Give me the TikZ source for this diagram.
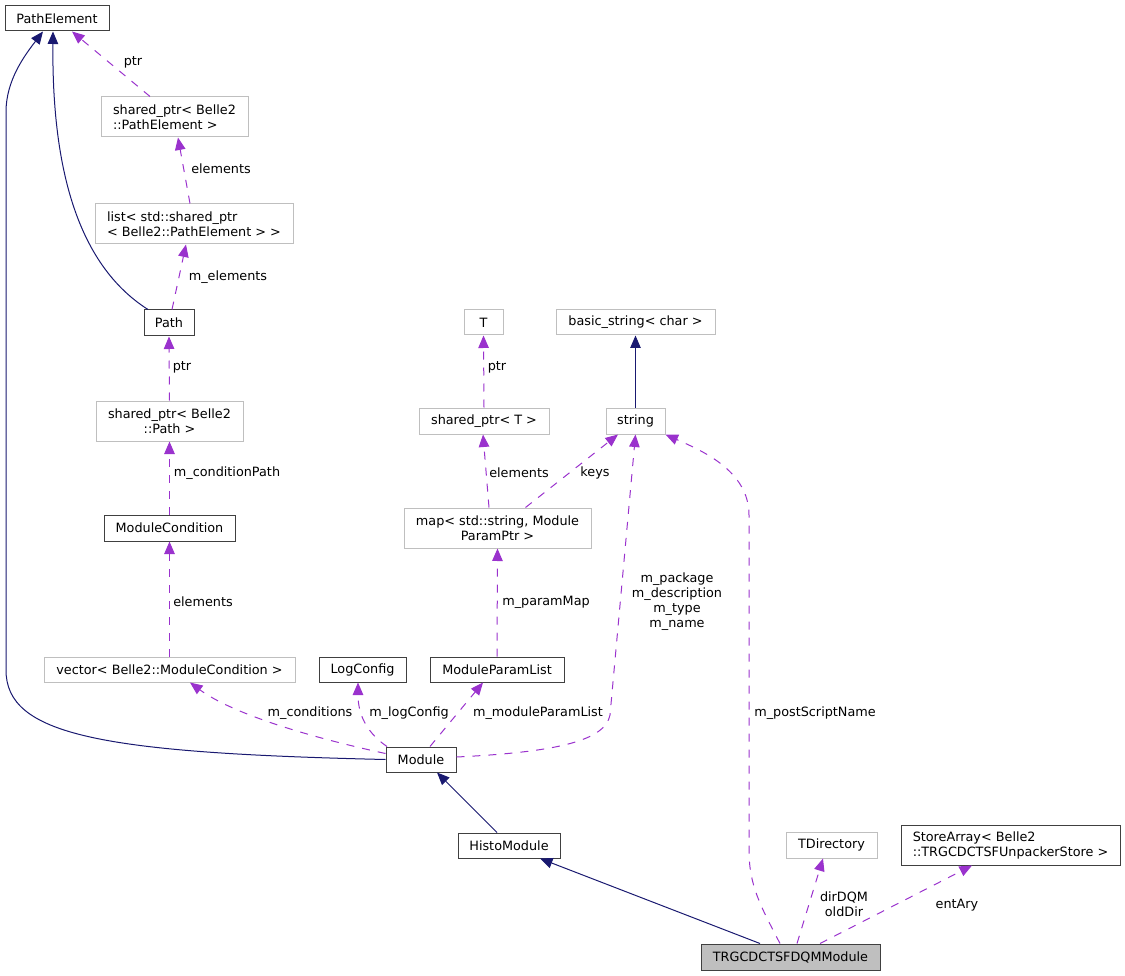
\documentclass[tikz,border=0pt]{standalone}
\usepackage{fontspec}
\setmainfont{DejaVu Sans}
\usetikzlibrary{arrows.meta}
\definecolor{navy}{HTML}{191970}
\definecolor{orchid}{HTML}{9A32CD}
\definecolor{gborder}{HTML}{BFBFBF}
\definecolor{bborder}{HTML}{404040}
\definecolor{selfill}{HTML}{BFBFBF}
\begin{document}
\begin{tikzpicture}[x=1pt,y=-1pt,
  every node/.style={font=\fontsize{12.8}{15}\selectfont, inner sep=0pt},
  cls/.style={draw=bborder, line width=1pt, fill=white},
  ext/.style={draw=gborder, line width=1pt, fill=white},
  inh/.style={draw=navy, line width=1pt, -{Triangle[length=12.5pt,width=10.5pt]}},
  dep/.style={draw=orchid, line width=1pt, dash pattern=on 8pt off 8pt, -{Triangle[length=12.5pt,width=10.5pt]}},
  lbl/.style={align=center}
]
\useasboundingbox (0,0) rectangle (1125,976);

% nodes
\node[cls, minimum width=104pt, minimum height=25pt] (pe) at (57,18.5) {PathElement};
\node[ext, minimum width=147pt, minimum height=40pt, align=left] (spe) at (174.5,117) {shared\_ptr< Belle2\\::PathElement >};
\node[ext, minimum width=198pt, minimum height=40pt, align=left] (lst) at (194,224) {list< std::shared\_ptr\\< Belle2::PathElement > >};
\node[cls, minimum width=50pt, minimum height=26pt] (path) at (169,323) {Path};
\node[ext, minimum width=147pt, minimum height=40pt, align=center] (spp) at (169.5,421) {shared\_ptr< Belle2\\::Path >};
\node[cls, minimum width=131pt, minimum height=26pt] (mc) at (169.5,528) {ModuleCondition};
\node[ext, minimum width=251pt, minimum height=25pt] (vec) at (169.5,669.5) {vector< Belle2::ModuleCondition >};
\node[cls, minimum width=87pt, minimum height=25pt] (lc) at (362.5,669.5) {LogConfig};
\node[cls, minimum width=134pt, minimum height=25pt] (mpl) at (497,669.5) {ModuleParamList};
\node[cls, minimum width=70pt, minimum height=25pt] (mod) at (421,759.5) {Module};
\node[cls, minimum width=102pt, minimum height=25pt] (histo) at (509,845.5) {HistoModule};
\node[draw=bborder, line width=1pt, fill=selfill, minimum width=179pt, minimum height=26pt] (trg) at (790.5,957) {TRGCDCTSFDQMModule};
\node[ext, minimum width=91pt, minimum height=26pt] (tdir) at (831.5,845) {TDirectory};
\node[cls, minimum width=219pt, minimum height=40pt, align=left] (sa) at (1010.5,845) {StoreArray< Belle2\\::TRGCDCTSFUnpackerStore >};
\node[ext, minimum width=39pt, minimum height=25pt] (tnode) at (483.5,322.5) {T};
\node[ext, minimum width=159pt, minimum height=25pt] (bs) at (635.5,322.5) {basic\_string< char >};
\node[ext, minimum width=130pt, minimum height=26pt] (spt) at (484,421) {shared\_ptr< T >};
\node[ext, minimum width=59pt, minimum height=26pt] (str) at (635.5,421) {string};
\node[ext, minimum width=187pt, minimum height=40pt, align=center] (map) at (497.5,528) {map< std::string, Module\\ParamPtr >};

% inheritance edges
\draw[inh] (mod.west) .. controls (100,753) and (6,735) .. (6,670) -- (6,112) .. controls (6,80) and (25,55) .. ([xshift=-14pt]pe.south);
\draw[inh] ([xshift=-21pt]path.north) .. controls (70,260) and (52,150) .. ([xshift=-4pt]pe.south);
\draw[inh] ([xshift=-12pt]histo.north) -- ([xshift=16pt]mod.south);
\draw[inh] ([xshift=-30.5pt]trg.north) -- ([xshift=31pt]histo.south);
\draw[inh] (str.north) -- (bs.south);

% usage edges
\draw[dep] ([xshift=-24.5pt]spe.north) -- ([xshift=15pt]pe.south);
\draw[dep] ([xshift=-4pt]lst.north) -- ([xshift=3.5pt]spe.south);
\draw[dep] ([xshift=3pt]path.north) -- ([xshift=-8pt]lst.south);
\draw[dep] (spp.north) -- (path.south);
\draw[dep] (mc.north) -- (spp.south);
\draw[dep] (vec.north) -- (mc.south);
\draw[dep] ([yshift=6pt]mod.west) .. controls (300,735) and (230,712) .. ([xshift=20.5pt]vec.south);
\draw[dep] ([xshift=-34pt]mod.north) .. controls (370,735) and (358,718) .. ([xshift=-4.5pt]lc.south);
\draw[dep] ([xshift=9pt]mod.north) -- ([xshift=-14pt]mpl.south);
\draw[dep] ([yshift=2.5pt]mod.east) .. controls (560,752) and (605,740) .. (610,715) -- (str.south);
\draw[dep] ([xshift=-10.5pt]trg.north) .. controls (760,905) and (749,885) .. (749,850) -- (749,515) .. controls (749,470) and (700,450) .. (str.south east);
\draw[dep] ([xshift=6.5pt]trg.north) -- ([xshift=-8.5pt]tdir.south);
\draw[dep] ([xshift=29.5pt]trg.north) -- ([xshift=-38.5pt]sa.south);
\draw[dep] (spt.north) -- (tnode.south);
\draw[dep] ([xshift=-8.5pt]map.north) -- ([xshift=-1pt]spt.south);
\draw[dep] ([xshift=28pt]map.north) -- ([xshift=-17.5pt]str.south);
\draw[dep] (mpl.north) -- (map.south);

% labels
\node[lbl] (l1) at (133,62) {ptr};
\node[lbl] (l2) at (221,169) {elements};
\node[lbl] (l3) at (228,277) {m\_elements};
\node[lbl] (l4) at (182,367) {ptr};
\node[lbl] (l5) at (227,473) {m\_conditionPath};
\node[lbl] (l6) at (203,602) {elements};
\node[lbl] (l7) at (310,713) {m\_conditions};
\node[lbl] (l8) at (409,713) {m\_logConfig};
\node[lbl] (l9) at (538,713) {m\_moduleParamList};
\node[lbl] (l10) at (497,367) {ptr};
\node[lbl] (l11) at (519,473) {elements};
\node[lbl] (l12) at (595,473) {keys};
\node[lbl] (l13) at (546,602) {m\_paramMap};
\node[lbl] (l14) at (677,602) {m\_package\\m\_description\\m\_type\\m\_name};
\node[lbl] (l15) at (815,713) {m\_postScriptName};
\node[lbl] (l16) at (844,904) {dirDQM\\oldDir};
\node[lbl] (l17) at (957,905) {entAry};
\end{tikzpicture}
\end{document}
